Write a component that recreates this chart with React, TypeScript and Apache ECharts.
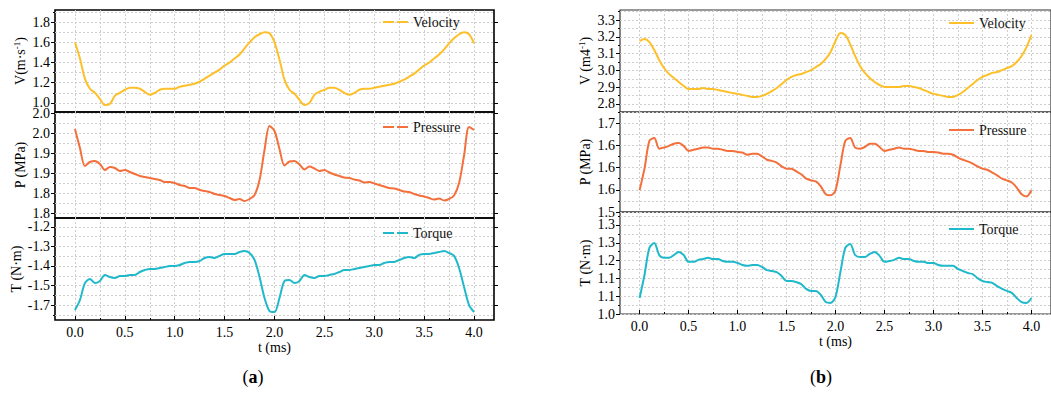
import React, { useEffect, useRef } from 'react';
import * as echarts from 'echarts';

// Time axis (ms), shared by every series
const TIME = [
  0.0, 0.05, 0.1, 0.15, 0.2, 0.25, 0.3, 0.35, 0.4, 0.45,
  0.5, 0.55, 0.6, 0.65, 0.7, 0.75, 0.8, 0.85, 0.9, 0.95,
  1.0, 1.05, 1.1, 1.15, 1.2, 1.25, 1.3, 1.35, 1.4, 1.45,
  1.5, 1.55, 1.6, 1.65, 1.7, 1.75, 1.8, 1.85, 1.9, 1.95,
  2.0, 2.05, 2.1, 2.15, 2.2, 2.25, 2.3, 2.35, 2.4, 2.45,
  2.5, 2.55, 2.6, 2.65, 2.7, 2.75, 2.8, 2.85, 2.9, 2.95,
  3.0, 3.05, 3.1, 3.15, 3.2, 3.25, 3.3, 3.35, 3.4, 3.45,
  3.5, 3.55, 3.6, 3.65, 3.7, 3.75, 3.8, 3.85, 3.9, 3.95,
  4.0,
];

// (a) velocity, m·s^-1
const VEL_A = [
  1.60, 1.44, 1.24, 1.14, 1.10, 1.04, 0.98, 0.99, 1.07, 1.10,
  1.13, 1.15, 1.15, 1.14, 1.11, 1.08, 1.10, 1.13, 1.14, 1.14,
  1.14, 1.16, 1.17, 1.18, 1.19, 1.21, 1.24, 1.27, 1.30, 1.33,
  1.37, 1.40, 1.44, 1.48, 1.54, 1.60, 1.65, 1.68, 1.70, 1.69,
  1.60, 1.43, 1.23, 1.13, 1.09, 1.03, 0.98, 1.00, 1.08, 1.11,
  1.13, 1.15, 1.15, 1.13, 1.10, 1.08, 1.10, 1.13, 1.14, 1.14,
  1.15, 1.16, 1.17, 1.18, 1.19, 1.21, 1.23, 1.26, 1.29, 1.33,
  1.37, 1.40, 1.44, 1.48, 1.53, 1.59, 1.64, 1.68, 1.70, 1.68,
  1.59,
];

// (a) pressure, MPa
const PRES_A = [
  1.968, 1.930, 1.894, 1.902, 1.904, 1.898, 1.886, 1.892, 1.890, 1.884,
  1.886, 1.882, 1.878, 1.874, 1.872, 1.870, 1.868, 1.866, 1.862, 1.862,
  1.860, 1.856, 1.854, 1.850, 1.850, 1.846, 1.844, 1.842, 1.838, 1.836,
  1.834, 1.830, 1.826, 1.828, 1.824, 1.828, 1.836, 1.866, 1.926, 1.974,
  1.964, 1.928, 1.895, 1.903, 1.904, 1.897, 1.887, 1.893, 1.889, 1.884,
  1.886, 1.881, 1.877, 1.874, 1.871, 1.870, 1.867, 1.865, 1.861, 1.862,
  1.859, 1.856, 1.853, 1.850, 1.849, 1.846, 1.843, 1.842, 1.838, 1.835,
  1.833, 1.830, 1.827, 1.829, 1.825, 1.828, 1.835, 1.860, 1.915, 1.972,
  1.966,
];

// (a) torque, N·m
const TORQ_A = [
  -1.691, -1.629, -1.525, -1.500, -1.525, -1.512, -1.475, -1.488, -1.494, -1.482,
  -1.482, -1.475, -1.475, -1.457, -1.445, -1.438, -1.438, -1.432, -1.426, -1.420,
  -1.420, -1.414, -1.402, -1.395, -1.395, -1.389, -1.371, -1.365, -1.371, -1.358,
  -1.346, -1.346, -1.346, -1.334, -1.328, -1.340, -1.383, -1.488, -1.617, -1.697,
  -1.703, -1.617, -1.512, -1.506, -1.525, -1.512, -1.475, -1.488, -1.494, -1.482,
  -1.482, -1.475, -1.469, -1.457, -1.445, -1.445, -1.438, -1.432, -1.426, -1.420,
  -1.414, -1.414, -1.402, -1.395, -1.395, -1.383, -1.371, -1.365, -1.371, -1.352,
  -1.346, -1.346, -1.340, -1.334, -1.328, -1.340, -1.358, -1.432, -1.549, -1.660,
  -1.703,
];

// (b) velocity
const VEL_B = [
  3.175, 3.187, 3.169, 3.121, 3.062, 3.014, 2.979, 2.955, 2.931, 2.907,
  2.889, 2.889, 2.889, 2.895, 2.889, 2.889, 2.883, 2.877, 2.871, 2.865,
  2.860, 2.854, 2.848, 2.842, 2.842, 2.848, 2.860, 2.877, 2.895, 2.919,
  2.943, 2.961, 2.973, 2.979, 2.990, 3.002, 3.020, 3.038, 3.068, 3.110,
  3.175, 3.223, 3.211, 3.157, 3.086, 3.026, 2.985, 2.955, 2.931, 2.913,
  2.901, 2.901, 2.901, 2.901, 2.907, 2.907, 2.901, 2.895, 2.883, 2.871,
  2.860, 2.854, 2.848, 2.842, 2.842, 2.854, 2.871, 2.895, 2.919, 2.943,
  2.961, 2.973, 2.985, 2.990, 3.002, 3.014, 3.026, 3.050, 3.086, 3.139,
  3.211,
];

// (b) pressure, MPa
const PRES_B = [
  1.559, 1.598, 1.648, 1.653, 1.634, 1.636, 1.639, 1.643, 1.644, 1.639,
  1.630, 1.632, 1.634, 1.636, 1.636, 1.634, 1.634, 1.632, 1.630, 1.630,
  1.628, 1.627, 1.623, 1.625, 1.625, 1.620, 1.614, 1.612, 1.609, 1.602,
  1.598, 1.598, 1.593, 1.588, 1.580, 1.577, 1.575, 1.566, 1.552, 1.550,
  1.559, 1.604, 1.648, 1.653, 1.636, 1.634, 1.637, 1.643, 1.643, 1.637,
  1.630, 1.632, 1.634, 1.636, 1.634, 1.634, 1.632, 1.630, 1.630, 1.628,
  1.628, 1.627, 1.625, 1.625, 1.623, 1.618, 1.614, 1.611, 1.607, 1.602,
  1.598, 1.596, 1.591, 1.586, 1.580, 1.577, 1.573, 1.564, 1.552, 1.548,
  1.559,
];

// (b) torque
const TORQ_B = [
  1.056, 1.137, 1.232, 1.249, 1.207, 1.197, 1.197, 1.207, 1.218, 1.207,
  1.183, 1.183, 1.190, 1.193, 1.197, 1.193, 1.193, 1.186, 1.183, 1.183,
  1.179, 1.172, 1.169, 1.172, 1.172, 1.165, 1.154, 1.151, 1.147, 1.133,
  1.116, 1.116, 1.112, 1.105, 1.088, 1.081, 1.081, 1.067, 1.042, 1.039,
  1.060, 1.147, 1.232, 1.246, 1.207, 1.200, 1.200, 1.211, 1.218, 1.204,
  1.183, 1.186, 1.190, 1.197, 1.193, 1.193, 1.186, 1.183, 1.183, 1.179,
  1.179, 1.172, 1.169, 1.169, 1.169, 1.158, 1.151, 1.144, 1.140, 1.126,
  1.116, 1.112, 1.109, 1.098, 1.088, 1.081, 1.074, 1.056, 1.042, 1.039,
  1.056,
];

// x ticks
const X_TICKS = [0, 0.5, 1, 1.5, 2, 2.5, 3, 3.5, 4];
const X_LABELS = ['0.0', '0.5', '1.0', '1.5', '2.0', '2.5', '3.0', '3.5', '4.0'];
const X_MINOR = [0.25, 0.75, 1.25, 1.75, 2.25, 2.75, 3.25, 3.75];

// y ticks, (a)
const VEL_A_TICKS = [1.0, 1.2, 1.4, 1.6, 1.8];
const VEL_A_LABELS = ['1.0', '1.2', '1.4', '1.6', '1.8'];
const VEL_A_MINOR = [1.1, 1.3, 1.5, 1.7, 1.9];
const PRES_A_TICKS = [1.8, 1.84, 1.88, 1.92, 1.96, 2.0];
const PRES_A_LABELS = ['1.8', '1.8', '1.9', '1.9', '2.0', '2.0'];
const PRES_A_MINOR = [1.82, 1.86, 1.9, 1.94, 1.98];
const TORQ_A_TICKS = [-1.66, -1.54, -1.42, -1.3, -1.18];
const TORQ_A_LABELS = ['-1.7', '-1.5', '-1.4', '-1.3', '-1.2'];
const TORQ_A_MINOR = [-1.72, -1.6, -1.48, -1.36, -1.24];

// y ticks, (b)
const VEL_B_TICKS = [2.8, 2.9, 3.0, 3.1, 3.2, 3.3];
const VEL_B_LABELS = ['2.8', '2.9', '3.0', '3.1', '3.2', '3.3'];
const VEL_B_MINOR = [2.85, 2.95, 3.05, 3.15, 3.25, 3.35];
const PRES_B_TICKS = [1.52, 1.56, 1.6, 1.64, 1.68];
const PRES_B_LABELS = ['1.5', '1.6', '1.6', '1.6', '1.7'];
const PRES_B_MINOR = [1.54, 1.58, 1.62, 1.66, 1.7];
const TORQ_B_TICKS = [1.0, 1.0625, 1.125, 1.1875, 1.25, 1.3125];
const TORQ_B_LABELS = ['1.0', '1.1', '1.1', '1.2', '1.3', '1.3'];
const TORQ_B_MINOR = [1.03125, 1.09375, 1.15625, 1.21875, 1.28125, 1.34375];

const FONT = 'Liberation Serif';
const C_VEL = '#FDC02A';
const C_PRES = '#F3703C';
const C_TORQ = '#20B9CB';
const GRID_LINE = '#cfcfcf';

// legend keys: a dashed bar for (a), a solid bar for (b)
const KEY_DASHED = 'path://M0,0H11V2H0Z M14,0H25V2H14Z';
const KEY_SOLID = 'path://M0,0H25V2H0Z';

type Panel = {
  box: [number, number, number, number];
  min: number;
  max: number;
  ticks: number[];
  labels: string[];
  minor: number[];
  axisName: string;
  seriesName: string;
  data: number[];
  color: string;
  legendAt: [number, number];
  dashedKey: boolean;
  bottom: boolean;
  rightTicks: boolean;
  frame: string;
  frameWidth: number;
};

const nameRich = {
  n: { fontSize: 14, fontFamily: FONT, color: '#000', lineHeight: 16 },
  s: { fontSize: 9, fontFamily: FONT, color: '#000', verticalAlign: 'top', lineHeight: 9 },
};

const PANELS: Panel[] = [
  {
    box: [55, 10, 439, 102], min: 0.91, max: 1.92,
    ticks: VEL_A_TICKS, labels: VEL_A_LABELS, minor: VEL_A_MINOR,
    axisName: '{n|V(m·s}{s|-1}{n|)}', seriesName: 'Velocity', data: VEL_A, color: C_VEL,
    legendAt: [383, 14], dashedKey: true, bottom: false, rightTicks: true, frame: '#000', frameWidth: 1.6,
  },
  {
    box: [55, 112, 439, 106], min: 1.79, max: 2.002,
    ticks: PRES_A_TICKS, labels: PRES_A_LABELS, minor: PRES_A_MINOR,
    axisName: '{n|P (MPa)}', seriesName: 'Pressure', data: PRES_A, color: C_PRES,
    legendAt: [383, 119], dashedKey: true, bottom: false, rightTicks: true, frame: '#000', frameWidth: 1.6,
  },
  {
    box: [55, 218, 439, 102], min: -1.752, max: -1.125,
    ticks: TORQ_A_TICKS, labels: TORQ_A_LABELS, minor: TORQ_A_MINOR,
    axisName: '{n|T (N·m)}', seriesName: 'Torque', data: TORQ_A, color: C_TORQ,
    legendAt: [383, 225], dashedKey: true, bottom: true, rightTicks: true, frame: '#000', frameWidth: 1.6,
  },
  {
    box: [620, 10, 441, 102], min: 2.752, max: 3.36,
    ticks: VEL_B_TICKS, labels: VEL_B_LABELS, minor: VEL_B_MINOR,
    axisName: '{n|V (m4}{s|-1}{n|)}', seriesName: 'Velocity', data: VEL_B, color: C_VEL,
    legendAt: [949, 15], dashedKey: false, bottom: false, rightTicks: false, frame: '#333', frameWidth: 1.2,
  },
  {
    box: [620, 112, 441, 100], min: 1.52, max: 1.7,
    ticks: PRES_B_TICKS, labels: PRES_B_LABELS, minor: PRES_B_MINOR,
    axisName: '{n|P (MPa)}', seriesName: 'Pressure', data: PRES_B, color: C_PRES,
    legendAt: [949, 122], dashedKey: false, bottom: false, rightTicks: false, frame: '#333', frameWidth: 1.2,
  },
  {
    box: [620, 212, 441, 102], min: 1.0, max: 1.358,
    ticks: TORQ_B_TICKS, labels: TORQ_B_LABELS, minor: TORQ_B_MINOR,
    axisName: '{n|T (N·m)}', seriesName: 'Torque', data: TORQ_B, color: C_TORQ,
    legendAt: [949, 221], dashedKey: false, bottom: true, rightTicks: false, frame: '#333', frameWidth: 1.2,
  },
];

const labelFrom = (ticks: number[], labels: string[]) => (v: number) => {
  const k = ticks.findIndex((t) => Math.abs(t - v) < 1e-7);
  return k >= 0 ? labels[k] : '';
};

function buildOption() {
  const grid: any[] = [];
  const xAxis: any[] = [];
  const yAxis: any[] = [];
  const series: any[] = [];
  const legend: any[] = [];
  const splitStyle = { show: true, lineStyle: { color: GRID_LINE, width: 1, type: [2, 2] } };

  PANELS.forEach((p, i) => {
    const [left, top, width, height] = p.box;
    grid.push({
      left, top, width, height, show: true,
      borderColor: p.frame, borderWidth: p.frameWidth, backgroundColor: 'transparent',
    });

    const xi = xAxis.length;
    xAxis.push({
      type: 'value', gridIndex: i, min: -0.2, max: 4.2, position: 'bottom',
      axisLine: { show: false, onZero: false },
      axisTick: { show: p.bottom, inside: true, length: 4, customValues: X_TICKS, lineStyle: { color: '#000', width: 1 } },
      axisLabel: {
        show: p.bottom, customValues: X_TICKS, formatter: labelFrom(X_TICKS, X_LABELS),
        margin: 5, fontSize: 14, fontFamily: FONT, color: '#000',
      },
      splitLine: splitStyle,
      name: p.bottom ? 't (ms)' : '', nameLocation: 'middle', nameGap: 20,
      nameTextStyle: { fontSize: 14, fontFamily: FONT, color: '#000' },
    });
    xAxis.push({
      type: 'value', gridIndex: i, min: -0.2, max: 4.2, position: 'bottom',
      axisLine: { show: false, onZero: false },
      axisTick: { show: p.bottom, inside: true, length: 2, customValues: X_MINOR, lineStyle: { color: '#000', width: 1 } },
      axisLabel: { show: false },
      splitLine: splitStyle,
    });

    const yi = yAxis.length;
    yAxis.push({
      type: 'value', gridIndex: i, min: p.min, max: p.max, position: 'left',
      axisLine: { show: false, onZero: false },
      axisTick: { show: true, length: 4, customValues: p.ticks, lineStyle: { color: '#000', width: 1 } },
      axisLabel: {
        customValues: p.ticks, formatter: labelFrom(p.ticks, p.labels),
        margin: 5, fontSize: 14, fontFamily: FONT, color: '#000',
      },
      splitLine: splitStyle,
      name: p.axisName, nameLocation: 'middle', nameGap: 27, nameRotate: 90,
      nameTextStyle: { rich: nameRich },
    });
    yAxis.push({
      type: 'value', gridIndex: i, min: p.min, max: p.max, position: 'left',
      axisLine: { show: false, onZero: false },
      axisTick: { show: true, length: 2, customValues: p.minor, lineStyle: { color: '#000', width: 1 } },
      axisLabel: { show: false },
      splitLine: splitStyle,
    });
    if (p.rightTicks) {
      yAxis.push({
        type: 'value', gridIndex: i, min: p.min, max: p.max, position: 'right',
        axisLine: { show: false, onZero: false },
        axisTick: { show: true, length: 4, customValues: p.ticks, lineStyle: { color: '#000', width: 1 } },
        axisLabel: { show: false },
        splitLine: { show: false },
      });
    }

    series.push({
      type: 'line', name: p.seriesName, xAxisIndex: xi, yAxisIndex: yi,
      data: TIME.map((t, k) => [t, p.data[k]]),
      showSymbol: false, symbol: 'none', smooth: 0.3,
      lineStyle: { width: 2, color: p.color }, itemStyle: { color: p.color },
      z: 3,
    });

    legend.push({
      data: [{ name: p.seriesName, icon: p.dashedKey ? KEY_DASHED : KEY_SOLID }],
      left: p.legendAt[0], top: p.legendAt[1], padding: 0,
      itemWidth: 25, itemHeight: 2, itemGap: 4, selectedMode: false,
      itemStyle: { color: p.color, borderWidth: 0 },
      textStyle: { fontSize: 14, fontFamily: FONT, color: '#111', lineHeight: 16 },
    });
  });

  const captionRich = {
    p: { fontSize: 18, fontFamily: FONT, fill: '#000' },
    b: { fontSize: 18, fontFamily: FONT, fontWeight: 'bold', fill: '#000' },
  };

  return {
    animation: false,
    textStyle: { fontFamily: FONT },
    grid, xAxis, yAxis, series, legend,
    graphic: [
      { type: 'text', x: 253, y: 377, style: { text: '{p|(}{b|a}{p|)}', rich: captionRich, align: 'center', verticalAlign: 'middle' } },
      { type: 'text', x: 821, y: 377, style: { text: '{p|(}{b|b}{p|)}', rich: captionRich, align: 'center', verticalAlign: 'middle' } },
    ],
  };
}

export default function App() {
  const ref = useRef<HTMLDivElement>(null);
  useEffect(() => {
    document.body.style.margin = '0';
    if (!ref.current) return;
    const chart = echarts.init(ref.current, null, { renderer: 'svg' });
    chart.setOption(buildOption() as any);
    return () => chart.dispose();
  }, []);
  return <div ref={ref} style={{ width: 1051, height: 393, background: '#fff' }} />;
}
